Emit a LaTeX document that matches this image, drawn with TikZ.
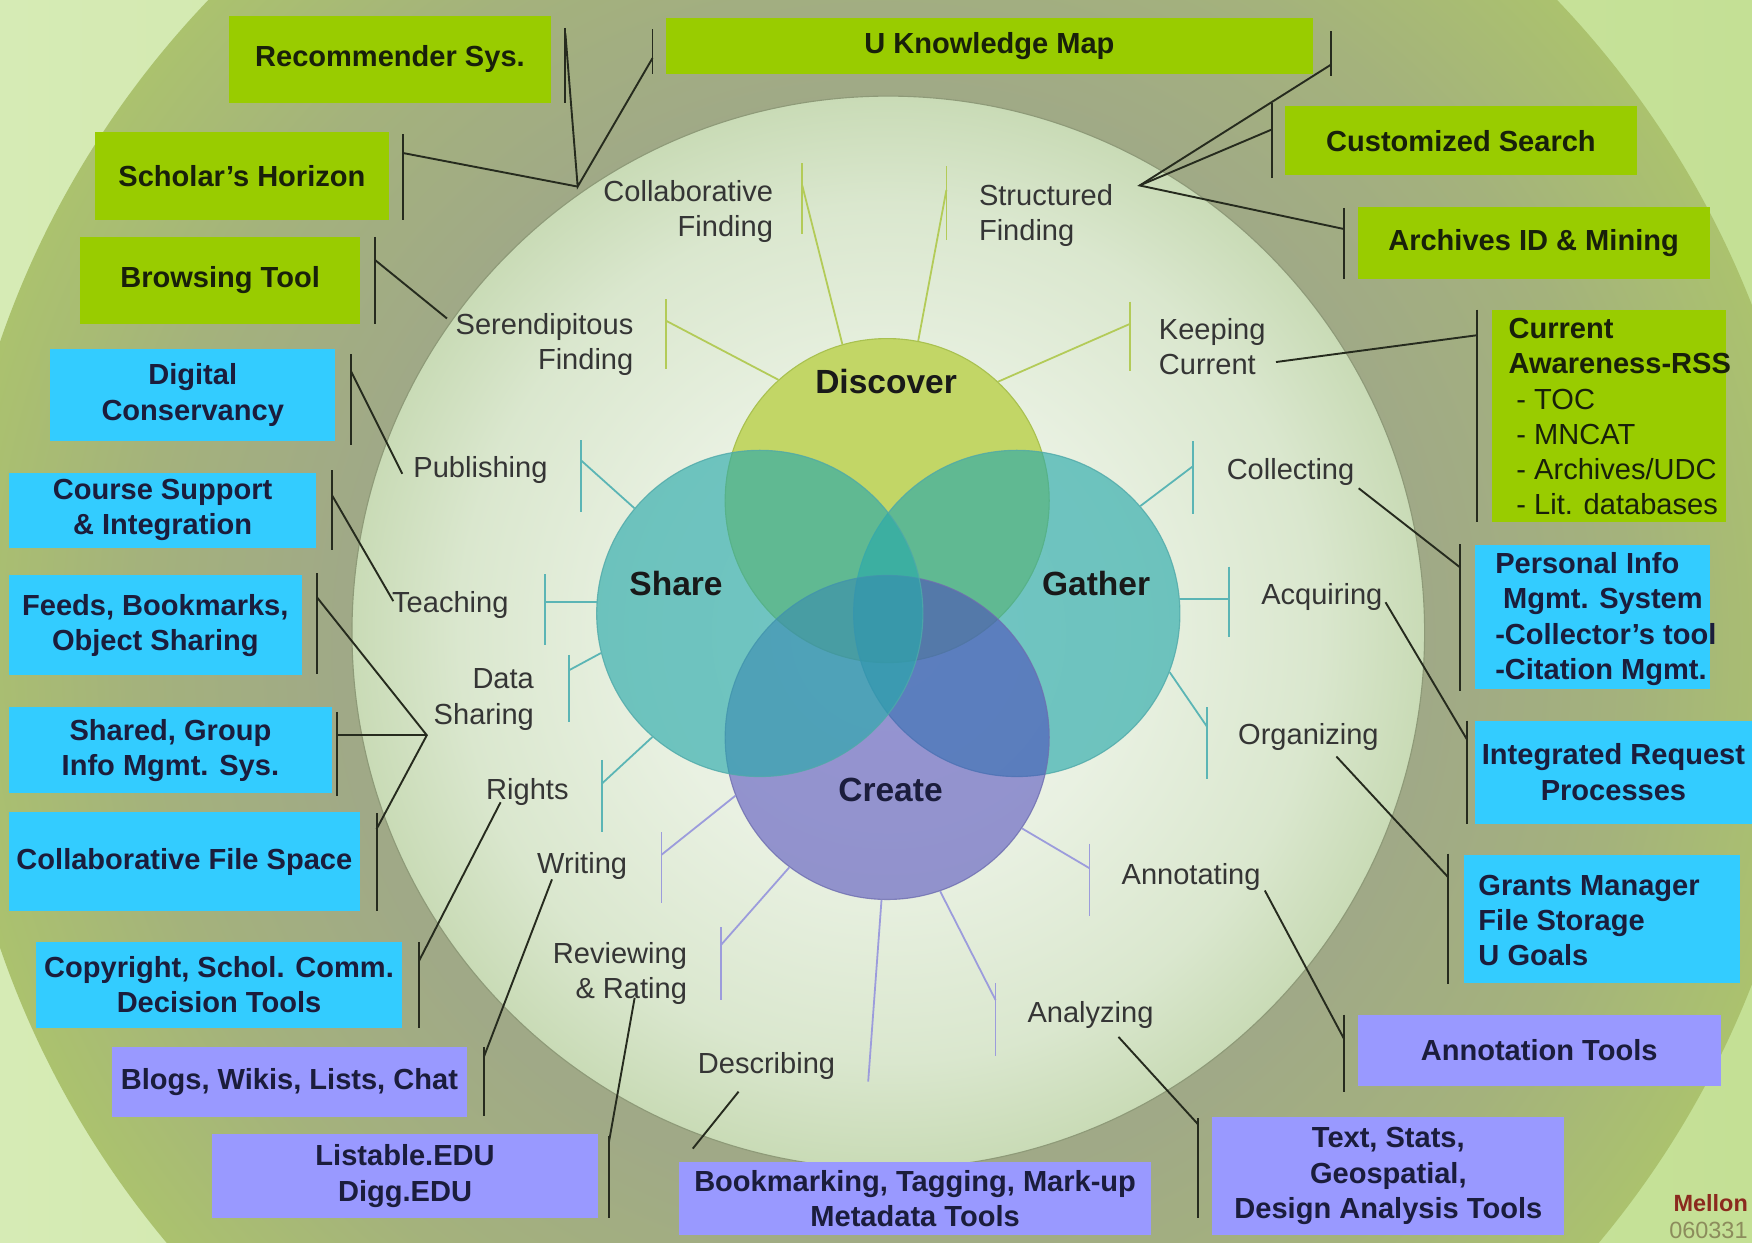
\documentclass[tikz,border=0pt]{standalone}
\usepackage{fontspec}
\setmainfont{Liberation Sans}
\usetikzlibrary{calc}
\definecolor{bgL}{HTML}{D6EBB5}
\definecolor{bgR}{HTML}{C4E095}
\definecolor{olA}{HTML}{A0A987}
\definecolor{olB}{HTML}{A4B27C}
\definecolor{olC}{HTML}{ABC26E}
\definecolor{inA}{HTML}{F3F7EF}
\definecolor{inB}{HTML}{E9F1E2}
\definecolor{inC}{HTML}{DAE7CE}
\definecolor{inD}{HTML}{C9DBB6}
\definecolor{gboxc}{HTML}{99CC00}
\definecolor{bboxc}{HTML}{33CCFF}
\definecolor{pboxc}{HTML}{9999FF}
\definecolor{txtc}{HTML}{1B1D3C}
\definecolor{gtxtc}{HTML}{18200A}
\definecolor{lblc}{HTML}{353535}
\definecolor{discc}{HTML}{C2D666}
\definecolor{sharc}{HTML}{29AAAB}
\definecolor{creac}{HTML}{4B45BC}
\definecolor{glc}{HTML}{B3CB58}
\definecolor{tlc}{HTML}{5BB5B5}
\definecolor{plc}{HTML}{9C9CDC}
\definecolor{klc}{HTML}{262B1E}
\definecolor{melc}{HTML}{8B2A1E}
\definecolor{datc}{HTML}{8C8C5C}
\definecolor{discd}{HTML}{A9C150}
\definecolor{shard}{HTML}{4FA9A9}
\definecolor{cread}{HTML}{6E6EB0}
\definecolor{rimc}{HTML}{8E9A78}
\pgfdeclareradialshading{outerring}{\pgfpoint{0bp}{0bp}}{color(0bp)=(olA); color(14.5bp)=(olA); color(20bp)=(olB); color(25bp)=(olC); color(50bp)=(olC)}
\pgfdeclareradialshading{innerdisk}{\pgfpoint{0bp}{0bp}}{color(0bp)=(inA); color(11bp)=(inB); color(20bp)=(inC); color(25bp)=(inD); color(50bp)=(inD)}
\newcommand\bxfont{\fontsize{26}{31.5}\selectfont\bfseries}
\newcommand\lbfont{\fontsize{26}{31.5}\selectfont}
\newcommand\vnfont{\fontsize{30}{36}\selectfont\bfseries}
\newcommand\mkbar[6]{\coordinate (#1a) at (#3,#4);\coordinate (#1b) at (#3,#5);\coordinate (#1) at (#3,#6);\draw[#2] (#1a) -- (#1b);}
\newcommand\itm[1]{\mdseries\hspace*{7pt}- #1}
\begin{document}
\begin{tikzpicture}[x=1pt,y=-1pt,
  venn/.style={circle, inner sep=0pt, line width=1pt},
  vn/.style={font=\vnfont, text=black!90, inner sep=0pt},
  lbl/.style={font=\lbfont, text=lblc, inner sep=0pt},
  box/.style={rectangle, inner sep=0pt, font=\bxfont, text=txtc, align=center},
  gbox/.style={box, fill=gboxc, text=gtxtc},
  bbox/.style={box, fill=bboxc},
  pbox/.style={box, fill=pboxc},
  btxt/.style={font=\bxfont, text=txtc, inner sep=0pt, align=left, anchor=west},
  gline/.style={draw=glc, line width=1.6pt},
  tline/.style={draw=tlc, line width=1.6pt},
  pline/.style={draw=plc, line width=1.6pt},
  kline/.style={draw=klc, line width=1.7pt}]
\useasboundingbox (0,0) rectangle (1568,1112);
\begin{scope}
\clip (0,0) rectangle (1568,1112);
\fill[left color=bgL, right color=bgR] (0,0) rectangle (1568,1112);
\shade[shading=outerring] (790,577) circle (835pt);
\shade[shading=innerdisk] (795,566) circle (480pt);
\draw[draw=rimc, line width=1pt] (795,566) circle (480pt);
\end{scope}

% Venn circles
\node[venn, minimum size=290pt, fill=discc, draw=discd] (disc) at (794,448) {};
\node[venn, minimum size=292pt, fill=sharc, fill opacity=0.64, draw=shard, draw opacity=0.8] (gath) at (910,549) {};
\node[venn, minimum size=290pt, fill=creac, fill opacity=0.55, draw=cread, draw opacity=0.8] (crea) at (794,660) {};
\node[venn, minimum size=292pt, fill=sharc, fill opacity=0.64, draw=shard, draw opacity=0.8] (shar) at (680,549) {};

\node[vn] (tDisc) at (793,341) {Discover};
\node[vn] (tShar) at (605,522) {Share};
\node[vn] (tGath) at (981,522) {Gather};
\node[vn, text=txtc] (tCrea) at (797,707) {Create};

% coloured connectors: Discover
\mkbar{gCol}{gline}{718}{146}{209}{166}
\mkbar{gStr}{gline}{847}{149}{215}{170}
\mkbar{gSer}{gline}{596}{268}{330}{287}
\mkbar{gKee}{gline}{1011}{270}{332}{290}
\draw[gline] (disc.106) -- (gCol);
\draw[gline] (disc.79) -- (gStr);
\draw[gline] (disc.132) -- (gSer);
\draw[gline] (disc.47) -- (gKee);
% Share / Gather
\mkbar{tPub}{tline}{520}{394}{458}{412}
\mkbar{tTea}{tline}{488}{514}{577}{539}
\mkbar{tDat}{tline}{509}{586}{646}{600}
\mkbar{tRig}{tline}{539}{680}{745}{701}
\mkbar{tCol}{tline}{1068}{395}{460}{417}
\mkbar{tAcq}{tline}{1100}{507}{570}{536}
\mkbar{tOrg}{tline}{1080}{633}{697}{650}
\draw[tline] (shar.140) -- (tPub);
\draw[tline] (shar.176) -- (shar.176 -| tTea);
\draw[tline] (shar.194) -- (tDat);
\draw[tline] (shar.229) -- (tRig);
\draw[tline] (gath.41) -- (tCol);
\draw[tline] (gath.5) -- (gath.5 -| tAcq);
\draw[tline] (gath.339) -- (tOrg);
% Create
\mkbar{pWri}{pline}{592}{745}{808}{765}
\mkbar{pRev}{pline}{645}{830}{895}{846}
\mkbar{pAna}{pline}{891}{880}{945}{895}
\mkbar{pAnn}{pline}{975}{755}{820}{777}
\coordinate (pDes) at (777,968);
\draw[pline] (crea.201) -- (pWri);
\draw[pline] (crea.233) -- (pRev);
\draw[pline] (crea.268) -- (pDes);
\draw[pline] (crea.289) -- (pAna);
\draw[pline] (crea.326) -- (pAnn);

% black connectors
\coordinate (aCF) at (517,167);
\mkbar{kRec}{kline}{506}{25}{92}{30}
\mkbar{kUKL}{kline}{584}{26}{66}{52}
\mkbar{kSch}{kline}{361}{120}{197}{137}
\draw[kline] (kRec) -- (aCF) -- (kUKL);
\draw[kline] (kSch) -- (aCF);
\coordinate (aSF) at (1020,166);
\mkbar{kUKR}{kline}{1191}{28}{68}{58}
\mkbar{kCus}{kline}{1138}{92}{159}{116}
\mkbar{kArc}{kline}{1203}{186}{250}{205}
\draw[kline] (kUKR) -- (aSF) -- (kArc);
\draw[kline] (kCus) -- (aSF);
\mkbar{kBro}{kline}{336}{212}{290}{233}
\coordinate (eSer) at (400,285);
\draw[kline] (kBro) -- (eSer);
\mkbar{kDig}{kline}{314}{317}{398}{332}
\coordinate (ePub) at (360,424);
\draw[kline] (kDig) -- (ePub);
\mkbar{kCou}{kline}{297}{421}{492}{443}
\coordinate (eTea) at (352,538);
\draw[kline] (kCou) -- (eTea);
\coordinate (aDS) at (382,658);
\mkbar{kFee}{kline}{284}{513}{603}{535}
\mkbar{kSha}{kline}{302}{637}{712}{658}
\mkbar{kCFS}{kline}{337}{728}{815}{742}
\draw[kline] (kFee) -- (aDS) -- (kCFS);
\draw[kline] (kSha) -- (aDS);
\mkbar{kCop}{kline}{375}{843}{920}{860}
\coordinate (eRig) at (448,718);
\draw[kline] (kCop) -- (eRig);
\mkbar{kBlo}{kline}{433}{937}{999}{946}
\coordinate (eWri) at (494,787);
\draw[kline] (kBlo) -- (eWri);
\mkbar{kLis}{kline}{545}{1017}{1090}{1022}
\coordinate (eRev) at (568,893);
\draw[kline] (kLis) -- (eRev);
\coordinate (eDesA) at (661,977);
\coordinate (eDesB) at (620,1028);
\draw[kline] (eDesA) -- (eDesB);
\mkbar{kTex}{kline}{1072}{1001}{1090}{1006}
\coordinate (eAna) at (1001,928);
\draw[kline] (eAna) -- (kTex);
\mkbar{kAnn}{kline}{1203}{908}{977}{930}
\coordinate (eAnt) at (1132,797);
\draw[kline] (eAnt) -- (kAnn);
\mkbar{kGra}{kline}{1296}{764}{881}{785}
\coordinate (eOrg) at (1196,677);
\draw[kline] (eOrg) -- (kGra);
\mkbar{kInt}{kline}{1313}{645}{737}{662}
\coordinate (eAcq) at (1240,539);
\draw[kline] (eAcq) -- (kInt);
\mkbar{kPer}{kline}{1307}{487}{618}{508}
\coordinate (eCol) at (1216,437);
\draw[kline] (eCol) -- (kPer);
\mkbar{kCur}{kline}{1322}{277}{467}{300}
\coordinate (eKee) at (1142,324);
\draw[kline] (eKee) -- (kCur);

% boxes
\node[gbox, minimum width=288pt, minimum height=78pt] (rec) at (349,53) {Recommender Sys.};
\node[gbox, minimum width=579pt, minimum height=50pt] (ukm) at (885.5,41) {U Knowledge Map};
\node[gbox, minimum width=263pt, minimum height=79pt] (sch) at (216.5,157.5) {Scholar’s Horizon};
\node[gbox, minimum width=315pt, minimum height=62pt] (cus) at (1307.5,126) {Customized Search};
\node[gbox, minimum width=250pt, minimum height=78pt] (bro) at (197,251) {Browsing Tool};
\node[gbox, minimum width=315pt, minimum height=65pt] (arc) at (1372.5,217.5) {Archives ID \& Mining};
\node[gbox, minimum width=210pt, minimum height=190pt] (cur) at (1440,372) {};
\node[btxt, text=gtxtc] (curT) at (1350,373) {Current\\Awareness-RSS\\\itm{TOC}\\\itm{MNCAT}\\\itm{Archives/UDC}\\\itm{Lit. databases}};

\node[bbox, minimum width=255pt, minimum height=83pt] (dig) at (172.5,353.5) {Digital\\Conservancy};
\node[bbox, minimum width=275pt, minimum height=67pt] (cou) at (145.5,456.5) {Course Support\\\& Integration};
\node[bbox, minimum width=262pt, minimum height=89pt] (fee) at (139,559.5) {Feeds, Bookmarks,\\Object Sharing};
\node[bbox, minimum width=289pt, minimum height=77pt] (sha) at (152.5,671.5) {Shared, Group\\Info Mgmt. Sys.};
\node[bbox, minimum width=314pt, minimum height=88pt] (cfs) at (165,771) {Collaborative File Space};
\node[bbox, minimum width=328pt, minimum height=77pt] (cop) at (196,881.5) {Copyright, Schol. Comm.\\Decision Tools};
\node[bbox, minimum width=210pt, minimum height=129pt] (per) at (1425,552.5) {};
\node[btxt] (perT) at (1338,554) {Personal Info\\\hspace*{7pt}Mgmt. System\\-Collector’s tool\\-Citation Mgmt.};
\node[bbox, minimum width=248pt, minimum height=92pt] (int) at (1444,691) {Integrated Request\\Processes};
\node[bbox, minimum width=247pt, minimum height=115pt] (gra) at (1433.5,822.5) {};
\node[btxt] (graT) at (1323,824) {Grants Manager\\File Storage\\U Goals};

\node[pbox, minimum width=318pt, minimum height=63pt] (blo) at (259,968.5) {Blogs, Wikis, Lists, Chat};
\node[pbox, minimum width=345pt, minimum height=75pt] (lis) at (362.5,1052.5) {Listable.EDU\\Digg.EDU};
\node[pbox, minimum width=422pt, minimum height=65pt] (bkm) at (819,1072.5) {Bookmarking, Tagging, Mark-up\\Metadata Tools};
\node[pbox, minimum width=315pt, minimum height=105pt] (txs) at (1242.5,1052.5) {Text, Stats,\\Geospatial,\\Design Analysis Tools};
\node[pbox, minimum width=325pt, minimum height=64pt] (ant) at (1377.5,940) {Annotation Tools};

% labels
\node[lbl, align=right, anchor=east] (lCol) at (692,189) {Collaborative\\Finding};
\node[lbl, align=left, anchor=west] (lStr) at (876,193) {Structured\\Finding};
\node[lbl, align=right, anchor=east] (lSer) at (567,308) {Serendipitous\\Finding};
\node[lbl, align=left, anchor=west] (lKee) at (1037,310) {Keeping\\Current};
\node[lbl] (lPub) at (430,421) {Publishing};
\node[lbl] (lCol2) at (1155,422) {Collecting};
\node[lbl] (lTea) at (403,541) {Teaching};
\node[lbl] (lAcq) at (1183,534) {Acquiring};
\node[lbl, align=right, anchor=east] (lDat) at (478,626) {Data\\Sharing};
\node[lbl] (lOrg) at (1171,660) {Organizing};
\node[lbl] (lRig) at (472,709) {Rights};
\node[lbl] (lAnn) at (1066,785) {Annotating};
\node[lbl] (lWri) at (521,775) {Writing};
\node[lbl, align=right, anchor=east] (lRev) at (615,871) {Reviewing\\\& Rating};
\node[lbl] (lAna) at (976,908) {Analyzing};
\node[lbl] (lDes) at (686,954) {Describing};

\node[font=\fontsize{21}{24}\selectfont\bfseries, text=melc, inner sep=0pt] (mel) at (1531,1077) {Mellon};
\node[font=\fontsize{21}{24}\selectfont, text=datc, inner sep=0pt] (dat) at (1529,1101) {060331};
\end{tikzpicture}
\end{document}
